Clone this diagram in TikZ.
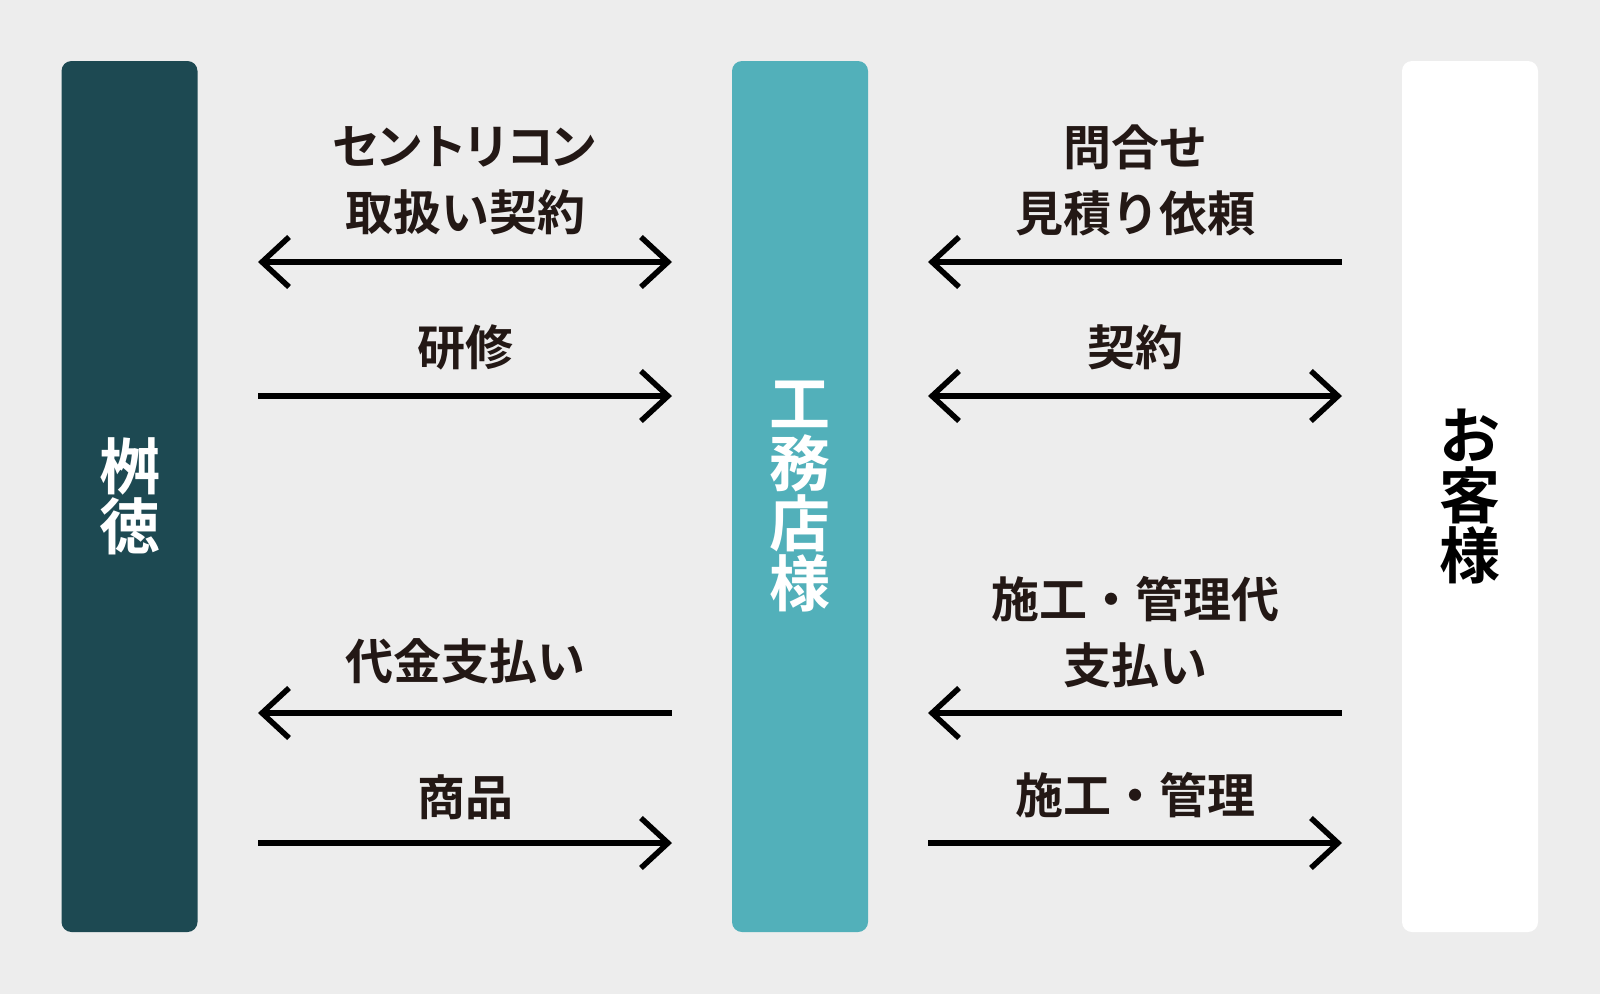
\documentclass[tikz,border=0pt]{standalone}
\usepackage{fontspec}
\usetikzlibrary{arrows.meta}
\newfontfamily\jp{Noto Sans CJK JP}[BoldFont={Noto Sans CJK JP Bold}]
\definecolor{bgc}{HTML}{EDEDED}
\definecolor{darkc}{HTML}{1D4952}
\definecolor{tealc}{HTML}{52B0BA}
\definecolor{txtc}{HTML}{231815}
\tikzset{
  party/.style={rounded corners=10pt, minimum width=136pt, minimum height=871pt, inner sep=0pt, align=center,
    font=\jp\bfseries\fontsize{61}{60}\selectfont},
  flow/.style={line width=5.5pt, draw=black},
  tipr/.style={-{Straight Barb[length=27pt,width=50pt,line width=5.5pt]}},
  tipb/.style={{Straight Barb[length=27pt,width=50pt,line width=5.5pt]}-{Straight Barb[length=27pt,width=50pt,line width=5.5pt]}},
  tipl/.style={{Straight Barb[length=27pt,width=50pt,line width=5.5pt]}-},
  lbl/.style={text=txtc, align=center, inner sep=0pt, font=\jp\bfseries\fontsize{48}{66}\selectfont}
}
\begin{document}
\begin{tikzpicture}[x=1pt,y=-1pt]
\fill[bgc] (0,0) rectangle (1600,994);
\useasboundingbox (0,0) rectangle (1600,994);
% parties
\node[party, fill=darkc, text=white] (masu) at (129.5,496.5) {桝\\徳};
\node[party, fill=tealc, text=white] (koumu) at (800,496.5) {工\\務\\店\\様};
\node[party, fill=white, text=black] (kyaku) at (1470,496.5) {お\\客\\様};
% anchor points of connectors
\coordinate (L1a) at (258,262); \coordinate (L1b) at (672,262);
\coordinate (L2a) at (258,396); \coordinate (L2b) at (672,396);
\coordinate (L3a) at (258,713); \coordinate (L3b) at (672,713);
\coordinate (L4a) at (258,843); \coordinate (L4b) at (672,843);
\coordinate (R1a) at (928,262); \coordinate (R1b) at (1342,262);
\coordinate (R2a) at (928,396); \coordinate (R2b) at (1342,396);
\coordinate (R3a) at (928,713); \coordinate (R3b) at (1342,713);
\coordinate (R4a) at (928,843); \coordinate (R4b) at (1342,843);
% connectors
\draw[flow, tipb] (L1a) -- (L1b);
\draw[flow, tipr] (L2a) -- (L2b);
\draw[flow, tipl] (L3a) -- (L3b);
\draw[flow, tipr] (L4a) -- (L4b);
\draw[flow, tipl] (R1a) -- (R1b);
\draw[flow, tipb] (R2a) -- (R2b);
\draw[flow, tipl] (R3a) -- (R3b);
\draw[flow, tipr] (R4a) -- (R4b);
% labels
\node[lbl] (t1) at (465,181) {{\addfontfeature{LetterSpace=-9.6}セントリコン}\\取扱い契約};
\node[lbl] (t2) at (465,347) {研修};
\node[lbl] (t3) at (465,661) {代金支払い};
\node[lbl] (t4) at (465,797) {商品};
\node[lbl] (t5) at (1135,180) {問合せ\\見積り依頼};
\node[lbl] (t6) at (1135,347) {契約};
\node[lbl] (t7) at (1135,632) {施工・管理代\\支払い};
\node[lbl] (t8) at (1135,795) {施工・管理};
\end{tikzpicture}
\end{document}
